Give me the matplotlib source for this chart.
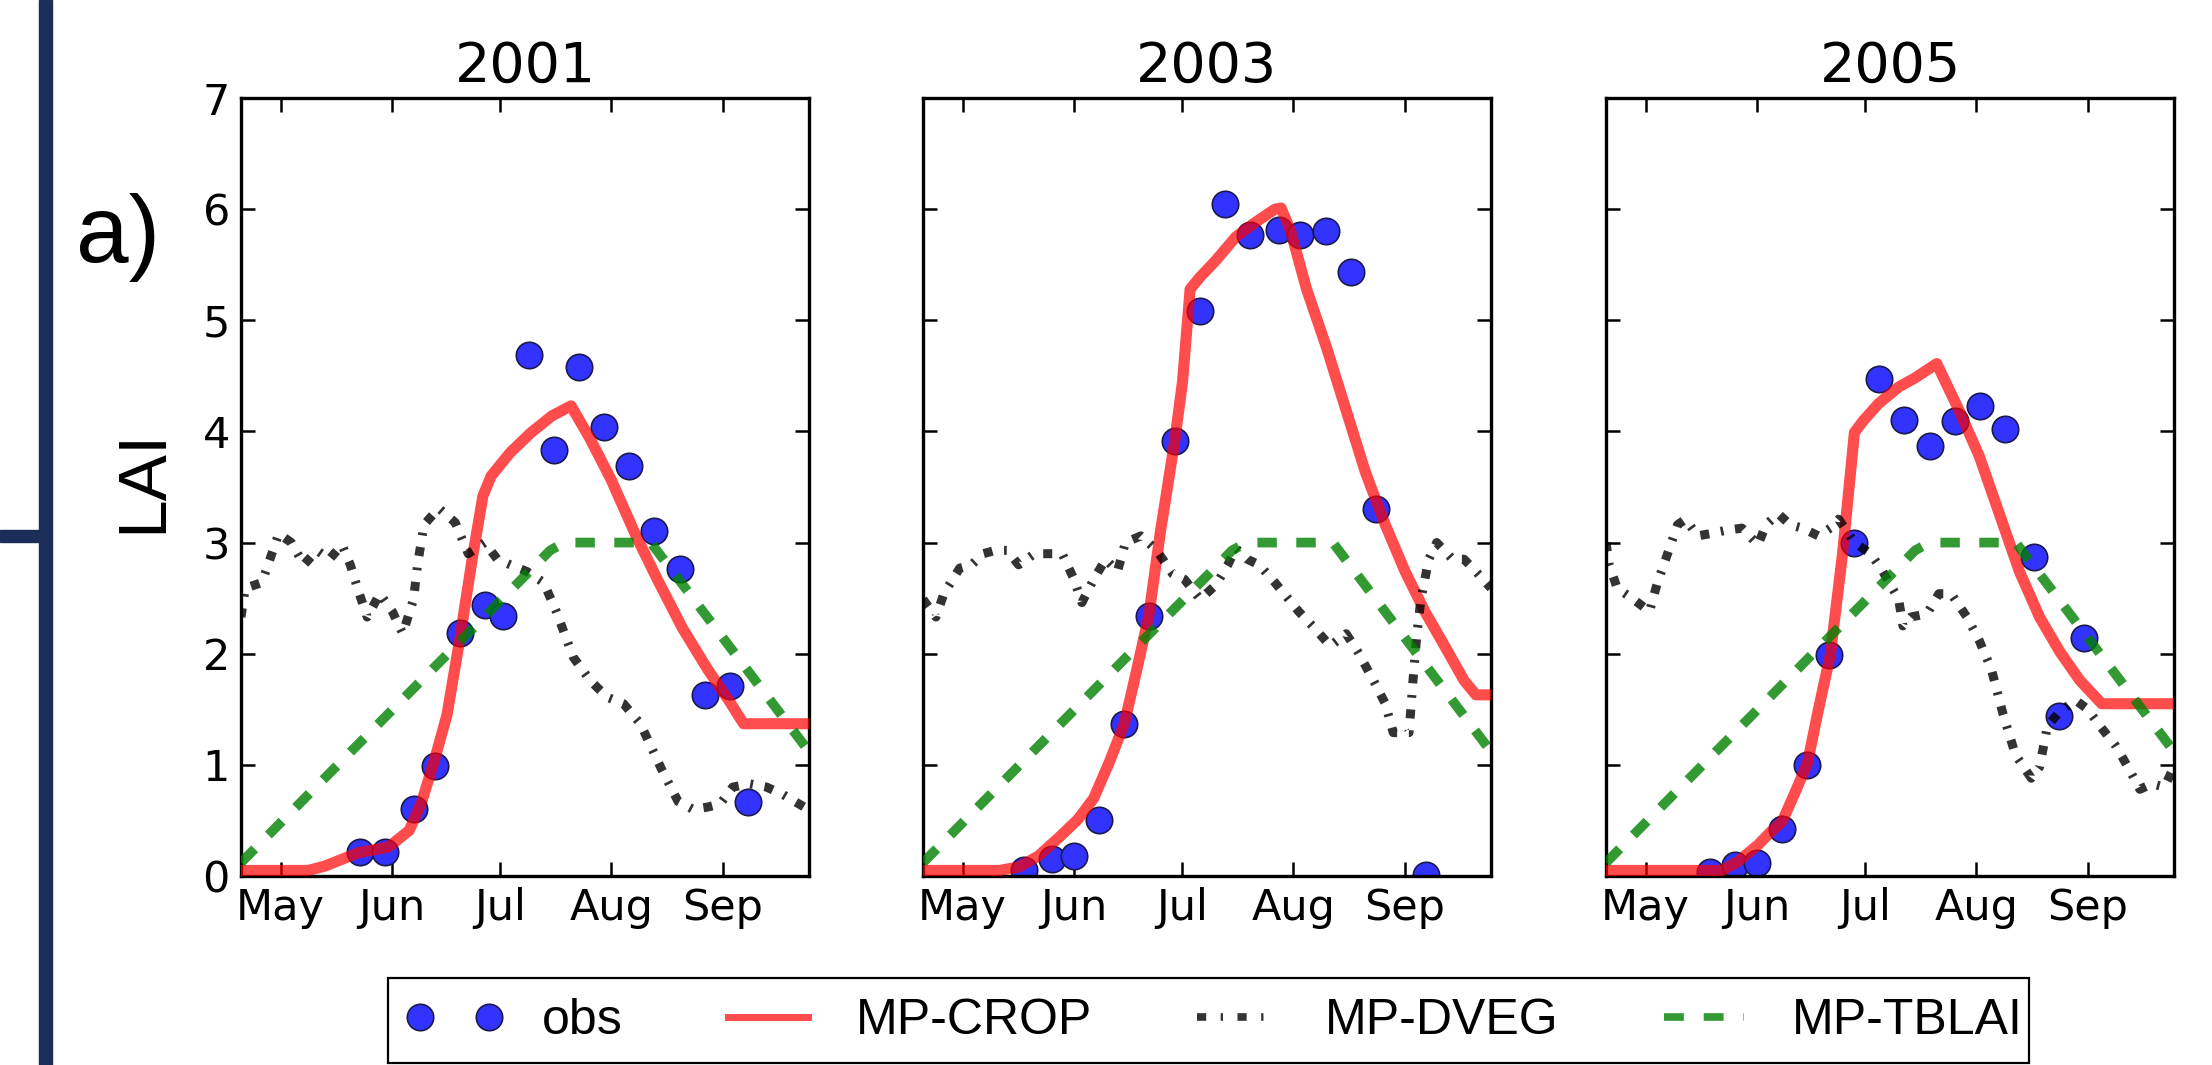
#/usr/bin/env python
# LAI seasonal cycle: obs vs MP-CROP / MP-DVEG / MP-TBLAI for three years

import matplotlib
matplotlib.use('Agg')
import matplotlib.pyplot as plt
from matplotlib.lines import Line2D
from matplotlib.legend_handler import HandlerLine2D
from matplotlib.patches import Rectangle

years = ['2001', '2003', '2005']
month_days = [121, 152, 182, 213, 244]
month_labels = ['May', 'Jun', 'Jul', 'Aug', 'Sep']

# observations (day of year, LAI)
obs_day_2001 = [143, 150, 158, 164, 171, 178, 183, 190, 197, 204, 211, 218, 225, 232, 239, 246, 251]
obs_lai_2001 = [0.22, 0.22, 0.60, 0.99, 2.19, 2.44, 2.34, 4.69, 3.83, 4.58, 4.04, 3.69, 3.10, 2.76, 1.63, 1.71, 0.67]
obs_day_2003 = [138, 146, 152, 159, 166, 173, 180, 187, 194, 201, 209, 215, 222, 229, 236, 250]
obs_lai_2003 = [0.05, 0.15, 0.18, 0.50, 1.37, 2.34, 3.91, 5.08, 6.05, 5.77, 5.81, 5.77, 5.80, 5.43, 3.30, 0.01]
obs_day_2005 = [139, 146, 152, 159, 166, 172, 179, 186, 193, 200, 207, 214, 221, 229, 236, 243]
obs_lai_2005 = [0.04, 0.10, 0.12, 0.42, 1.00, 1.99, 3.00, 4.47, 4.10, 3.87, 4.09, 4.23, 4.02, 2.87, 1.44, 2.14]

# MP-CROP
crop_day_2001 = [110, 128.7, 133.4, 142.7, 151, 156.8, 160.3, 163.8, 167.3, 170.8, 174.3, 177.3, 179.6,
                 184.9, 190.7, 196.5, 201.8, 207, 212.9, 219.9, 225.8, 232.8, 239.8, 245.7, 249.8, 268]
crop_lai_2001 = [0.05, 0.05, 0.09, 0.21, 0.26, 0.41, 0.67, 1.04, 1.45, 2.12, 2.85, 3.42, 3.60,
                 3.81, 3.99, 4.14, 4.23, 3.94, 3.57, 3.06, 2.67, 2.23, 1.86, 1.58, 1.37, 1.37]
crop_day_2003 = [110, 131.2, 136.6, 142.1, 147.6, 153.1, 157.5, 161.9, 166, 169.5, 172.8, 176.1, 180,
                 182.2, 184.3, 187.1, 191.5, 197, 202.4, 207.9, 209.6, 212.3, 216.7, 222.2, 227.7,
                 233.1, 238.6, 244.1, 249.6, 255.1, 260.5, 263.8, 268]
crop_lai_2003 = [0.05, 0.05, 0.08, 0.18, 0.34, 0.51, 0.70, 1.03, 1.37, 1.86, 2.34, 3.11, 3.91,
                 4.45, 5.28, 5.39, 5.54, 5.75, 5.88, 6.00, 6.01, 5.80, 5.28, 4.76, 4.19,
                 3.63, 3.16, 2.74, 2.38, 2.07, 1.76, 1.63, 1.63]
crop_day_2005 = [110, 142.2, 146.7, 152.3, 155.6, 159, 162.3, 166, 169.1, 172.4, 175.8, 179.1, 181.4,
                 185.8, 191.4, 195.9, 202, 208.2, 213.8, 219.4, 225, 230.6, 236.2, 241.8, 247.9, 268]
crop_lai_2005 = [0.05, 0.05, 0.13, 0.28, 0.39, 0.49, 0.73, 1.01, 1.50, 1.99, 2.90, 3.99, 4.09,
                 4.25, 4.40, 4.48, 4.61, 4.19, 3.78, 3.26, 2.74, 2.33, 2.02, 1.76, 1.55, 1.55]

# MP-DVEG
dveg_day_2001 = [110, 111.2, 115.8, 120.5, 124, 127.5, 131.1, 134.6, 138.1, 140.4, 142.7, 145.1, 148.6,
                 152.1, 155, 158, 159.1, 160.9, 165, 169.6, 173.2, 177.8, 181.3, 184.9, 189.5, 194.2,
                 197.7, 202.4, 207.1, 211.8, 216.4, 221.1, 227, 231.6, 235.7, 239.8, 243.3, 246.8,
                 251.5, 256.2, 260.9, 266.7, 268]
dveg_lai_2001 = [2.33, 2.59, 2.64, 3.08, 3.00, 2.80, 2.93, 2.85, 2.98, 2.80, 2.56, 2.33, 2.54,
                 2.38, 2.18, 2.49, 2.80, 3.16, 3.31, 3.18, 2.90, 3.00, 2.85, 2.80, 2.74, 2.64,
                 2.38, 1.97, 1.76, 1.61, 1.55, 1.37, 0.96, 0.67, 0.60, 0.62, 0.65, 0.80,
                 0.83, 0.80, 0.73, 0.62, 0.65]
dveg_day_2003 = [110, 113.6, 115.8, 120.2, 123.5, 126.8, 130.1, 133.4, 136.6, 141, 145.4, 148.7, 152,
                 154.2, 157.5, 160.8, 164.1, 166.3, 170.6, 175, 179.4, 182.7, 187.1, 191.5, 194.8,
                 197, 200.2, 203.5, 207.9, 211.2, 214.5, 218.9, 223.3, 227.7, 230.9, 235.3, 238.6,
                 240.8, 245.2, 246.3, 247.4, 248.5, 250.7, 252.9, 257.3, 260.5, 263.8, 268]
dveg_lai_2003 = [2.49, 2.33, 2.54, 2.77, 2.80, 2.90, 2.93, 2.93, 2.80, 2.90, 2.90, 2.90, 2.67,
                 2.46, 2.67, 2.85, 2.74, 3.00, 3.06, 2.93, 2.72, 2.67, 2.49, 2.62, 2.80,
                 2.95, 2.85, 2.80, 2.64, 2.51, 2.38, 2.23, 2.07, 2.18, 2.02, 1.76, 1.55,
                 1.29, 1.29, 1.76, 2.18, 2.49, 2.85, 3.00, 2.85, 2.85, 2.74, 2.59]
dveg_day_2005 = [110, 110.9, 113.1, 117.6, 122.1, 124.3, 126.6, 129.9, 132.1, 135.5, 138.9, 143.3,
                 147.8, 152.3, 154.5, 157.9, 161.2, 164.6, 169.1, 172.4, 174.7, 179.1, 183.6, 187,
                 191.4, 192.6, 194.8, 199.3, 202.6, 206, 210.4, 213.8, 217.2, 220.5, 223.9, 228.3,
                 230.6, 232.8, 236.2, 240.7, 244, 247.4, 251.8, 255.2, 258.5, 261.9, 265.3, 268]
dveg_lai_2005 = [3.00, 2.80, 2.59, 2.49, 2.38, 2.64, 2.85, 3.16, 3.21, 3.06, 3.08, 3.11,
                 3.13, 2.98, 3.16, 3.26, 3.16, 3.13, 3.06, 3.13, 3.21, 3.00, 2.90, 2.74,
                 2.49, 2.25, 2.33, 2.36, 2.54, 2.54, 2.33, 2.12, 1.86, 1.45, 1.09, 0.88,
                 0.98, 1.35, 1.48, 1.58, 1.50, 1.35, 1.17, 0.98, 0.78, 0.83, 0.80, 0.98]

# MP-TBLAI (table LAI, same seasonal cycle every year)
tblai_day = [110, 196, 200, 224, 268]
tblai_lai = [0.12, 2.93, 3.0, 3.0, 1.12]

obs_day = [obs_day_2001, obs_day_2003, obs_day_2005]
obs_lai = [obs_lai_2001, obs_lai_2003, obs_lai_2005]
crop_day = [crop_day_2001, crop_day_2003, crop_day_2005]
crop_lai = [crop_lai_2001, crop_lai_2003, crop_lai_2005]
dveg_day = [dveg_day_2001, dveg_day_2003, dveg_day_2005]
dveg_lai = [dveg_lai_2001, dveg_lai_2003, dveg_lai_2005]

W, H = 2212, 1065
fig = plt.figure(figsize=(W / 100.0, H / 100.0), dpi=100)

dash_dot = (1.0, 1.3, 0.3, 1.3)
lefts = [241, 923, 1606]
blue = (0.2, 0.2, 1.0)
edge = (0.1, 0.1, 0.3)

for i in range(3):
    ax = fig.add_axes([lefts[i] / float(W), 1 - 876.0 / H, 568.0 / W, 778.0 / H])
    ax.plot(obs_day[i], obs_lai[i], 'o', ms=19, mfc=blue, mec=edge, mew=1.2, ls='none', zorder=2)
    ax.plot(crop_day[i], crop_lai[i], color='r', alpha=0.7, lw=8, solid_joinstyle='round', zorder=3)
    ax.plot(dveg_day[i], dveg_lai[i], color='k', alpha=0.8, lw=6.5, dashes=dash_dot, zorder=4)
    ax.plot(tblai_day, tblai_lai, color='g', alpha=0.8, lw=7, dashes=(2, 2), zorder=5)

    ax.set_xlim(110, 268)
    ax.set_ylim(0, 7)
    ax.set_xticks(month_days)
    ax.set_xticklabels(month_labels)
    ax.set_yticks(range(8))
    if i > 0:
        ax.set_yticklabels([])
    ax.tick_params(direction='in', top=True, right=True, length=10, width=1.8,
                   labelsize=31, pad=8)
    for s in ax.spines.values():
        s.set_linewidth(2.4)
    ax.set_title(years[i], fontsize=40, pad=12)

# panel label and y label
fig.text(118.0 / W, 1 - 238.0 / H, 'a)', fontsize=68, family=['Liberation Sans', 'DejaVu Sans'],
         ha='center', va='center')
fig.text(143.0 / W, 1 - 481.0 / H, 'LAI', fontsize=50, rotation=90,
         family=['Liberation Sans', 'DejaVu Sans'], ha='center', va='center')

# slide frame bars on the left
fig.patches.append(Rectangle((39.0 / W, 0), 13.0 / W, 1, transform=fig.transFigure,
                             color='#1c2d5a', zorder=0))
fig.patches.append(Rectangle((0, 1 - 542.0 / H), 45.0 / W, 12.0 / H, transform=fig.transFigure,
                             color='#1c2d5a', zorder=0))

# legend
h_obs = Line2D([], [], ls='none', marker='o', ms=19, mfc=blue, mec=edge, mew=1.2)
h_crop = Line2D([], [], color='r', alpha=0.7, lw=5)
h_dveg = Line2D([], [], color='k', alpha=0.8, lw=5.5, dashes=(1.2, 1.9, 0.3, 1.9))
h_tbl = Line2D([], [], color='g', alpha=0.8, lw=5.5, dashes=(2.6, 2.6))
fig.legend([h_obs, h_crop, h_dveg, h_tbl], ['obs', 'MP-CROP', 'MP-DVEG', 'MP-TBLAI'],
           ncol=4, frameon=False, loc='center left',
           bbox_to_anchor=(414.0 / W, 1 - 1021.0 / H),
           borderpad=0, borderaxespad=0, handlelength=1.6, handletextpad=0.96,
           columnspacing=2.1,
           prop={'family': ['Liberation Sans', 'DejaVu Sans'], 'size': 36},
           handler_map={h_obs: HandlerLine2D(numpoints=2, marker_pad=0.11)})
fig.patches.append(Rectangle((388.0 / W, 1 - 1063.0 / H), (2029.0 - 388.0) / W, 85.0 / H,
                             transform=fig.transFigure, fill=False, ec='k', lw=1.6))

fig.savefig('out.png', dpi=100)
